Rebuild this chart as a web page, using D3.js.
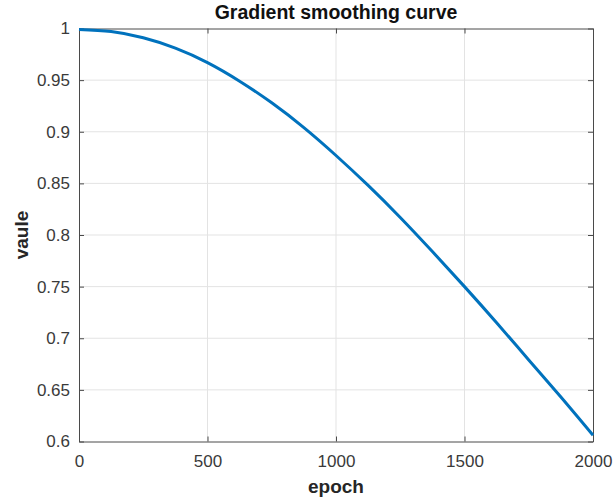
<!DOCTYPE html>
<html>
<head>
<meta charset="utf-8">
<script src="https://cdn.jsdelivr.net/npm/d3@7"></script>
<style>
    body { margin: 0; background: #fff; }
    svg { font-family: "Liberation Sans", Arial, Helvetica, sans-serif; display: block; }
</style>
</head>
<body>
<div id="main"></div>
<script>
// curve samples
const epochs = [0, 125, 250, 375, 500, 625, 750, 875, 1000, 1125, 1250, 1375, 1500, 1625, 1750, 1875, 2000];
const values = [0.999, 0.997, 0.991, 0.981, 0.967, 0.949, 0.928, 0.904, 0.877, 0.848, 0.817, 0.784, 0.750, 0.715, 0.679, 0.643, 0.606];
const xTicks = [0, 500, 1000, 1500, 2000];
const yTicks = [0.6, 0.65, 0.7, 0.75, 0.8, 0.85, 0.9, 0.95, 1];

const width = 613, height = 502;
const margin = {top: 28.5, right: 20, bottom: 60.5, left: 79};

let svg = d3.select('#main').append('svg')
    .attr('width', width)
    .attr('height', height);

let x = d3.scaleLinear().domain([0, 2000]).range([margin.left, width - margin.right]);
let y = d3.scaleLinear().domain([0.6, 1]).range([height - margin.bottom, margin.top]);

// grid
let grid = svg.append('g');
grid.selectAll('.gx').data(xTicks.slice(1, -1)).enter().append('line')
    .attr('x1', d => x(d)).attr('x2', d => x(d))
    .attr('y1', y(0.6)).attr('y2', y(1))
    .attr('stroke', '#e3e3e3').attr('stroke-width', 1);
grid.selectAll('.gy').data(yTicks.slice(1, -1)).enter().append('line')
    .attr('x1', x(0)).attr('x2', x(2000))
    .attr('y1', d => y(d)).attr('y2', d => y(d))
    .attr('stroke', '#e3e3e3').attr('stroke-width', 1);

// axes (ticks inside, box on)
const axisColor = '#4a4a4a';
function styleAxis(g, showLabels){
    g.select('.domain').attr('stroke', axisColor);
    g.selectAll('.tick line').attr('stroke', axisColor);
    g.selectAll('.tick text')
        .attr('fill', '#3a3a3a')
        .style('font-size', '17px')
        .attr('opacity', showLabels ? 1 : 0);
}

svg.append('g')
    .attr('transform', `translate(0,${y(0.6)})`)
    .call(d3.axisBottom(x).tickValues(xTicks).tickSize(-5).tickPadding(13).tickSizeOuter(0).tickFormat(d3.format('d')))
    .call(g => styleAxis(g, true));
svg.append('g')
    .attr('transform', `translate(0,${y(1)})`)
    .call(d3.axisTop(x).tickValues(xTicks).tickSize(-5).tickSizeOuter(0).tickFormat(''))
    .call(g => styleAxis(g, false));
svg.append('g')
    .attr('transform', `translate(${x(0)},0)`)
    .call(d3.axisLeft(y).tickValues(yTicks).tickSize(-5).tickPadding(9).tickSizeOuter(0).tickFormat(d3.format('~g')))
    .call(g => styleAxis(g, true));
svg.append('g')
    .attr('transform', `translate(${x(2000)},0)`)
    .call(d3.axisRight(y).tickValues(yTicks).tickSize(-5).tickSizeOuter(0).tickFormat(''))
    .call(g => styleAxis(g, false));

// curve
let line = d3.line()
    .x((d, i) => x(epochs[i]))
    .y(d => y(d))
    .curve(d3.curveNatural);

svg.append('path')
    .datum(values)
    .attr('fill', 'none')
    .attr('stroke', '#0072bd')
    .attr('stroke-width', 3)
    .attr('d', line);

// texts
svg.append('text')
    .attr('x', (x(0) + x(2000)) / 2).attr('y', 19)
    .attr('text-anchor', 'middle')
    .style('font-size', '19.5px').style('font-weight', 'bold')
    .attr('fill', '#111')
    .text('Gradient smoothing curve');

svg.append('text')
    .attr('x', (x(0) + x(2000)) / 2).attr('y', 493)
    .attr('text-anchor', 'middle')
    .style('font-size', '19px').style('font-weight', 'bold')
    .attr('fill', '#262626')
    .text('epoch');

svg.append('text')
    .attr('transform', `translate(28,${(y(0.6) + y(1)) / 2}) rotate(-90)`)
    .attr('text-anchor', 'middle')
    .style('font-size', '19px').style('font-weight', 'bold')
    .attr('fill', '#262626')
    .text('vaule');
</script>
</body>
</html>
